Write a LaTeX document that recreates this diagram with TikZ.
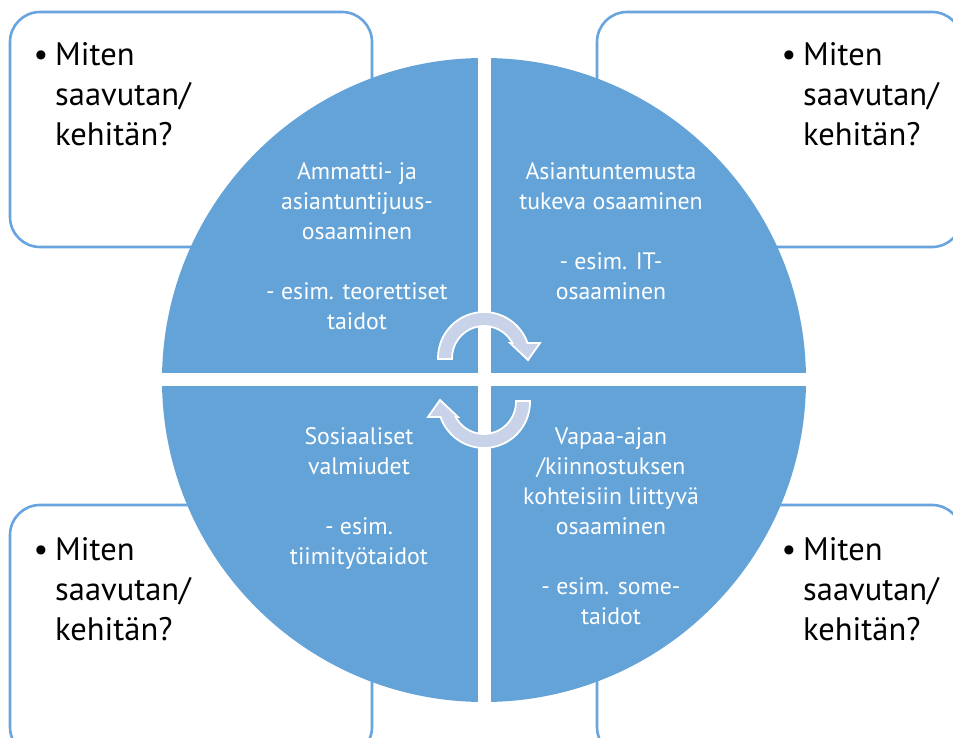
\documentclass[tikz,border=0pt]{standalone}
\usepackage{fontspec}
\setmainfont{PT Sans}
\usepackage{tikz}
\usetikzlibrary{positioning,calc}
\definecolor{wheel}{RGB}{100,163,215}
\definecolor{frame}{RGB}{104,164,222}
\definecolor{cycle}{RGB}{200,210,232}

\tikzset{
  askbox/.style={draw=frame,line width=2.6pt,rounded corners=30pt,fill=white},
  asktext/.style={inner sep=0pt,anchor=north west,align=left,font=\fontsize{32.5}{40}\selectfont},
  areatext/.style={inner sep=0pt,anchor=north,align=center,text=white,font=\fontsize{23.8}{30}\selectfont},
  cyclearrow/.style={fill=cycle,draw=white,line width=1.8pt,line join=miter}
}

\begin{document}
\begin{tikzpicture}[x=1pt,y=1pt]
\clip (0,0) rectangle (953,737);
\fill[white] (0,0) rectangle (953,737);
% corner boxes
\draw[askbox] (10,490) rectangle (372,725);
\draw[askbox] (597,490) rectangle (962,725);
\draw[askbox] (10,-20) rectangle (372,232);
\draw[askbox] (597,-20) rectangle (962,232);
\node[asktext] (ask1) at (55,695) {\llap{\textbullet\hspace{7pt}}Miten\\saavutan/\\kehitän?};
\node[asktext] (ask2) at (803,695) {\llap{\textbullet\hspace{7pt}}Miten\\saavutan/\\kehitän?};
\node[asktext] (ask3) at (55,200) {\llap{\textbullet\hspace{7pt}}Miten\\saavutan/\\kehitän?};
\node[asktext] (ask4) at (803,200) {\llap{\textbullet\hspace{7pt}}Miten\\saavutan/\\kehitän?};
% wheel
\coordinate (mid) at (484,357);
\fill[wheel] (mid) circle (322);
\draw[white,line width=13pt] ($(mid)+(0,-330)$) -- ($(mid)+(0,330)$);
\draw[white,line width=13pt] ($(mid)+(-330,0)$) -- ($(mid)+(330,0)$);
\node[areatext] (area1) at (357,575) {Ammatti- ja\\asiantuntijuus-\\osaaminen\\[30pt]- esim. teorettiset\\taidot};
\node[areatext] (area2) at (611,575) {Asiantuntemusta\\tukeva osaaminen\\[30pt]- esim. IT-\\osaaminen};
\node[areatext] (area3) at (359,310) {Sosiaaliset\\valmiudet\\[30pt]- esim.\\tiimityötaidot};
\node[areatext] (area4) at (611,310) {Vapaa-ajan\\/kiinnostuksen\\kohteisiin liittyvä\\osaaminen\\[30pt]- esim. some-\\taidot};
% cycle arrows
\begin{scope}[shift={(484,379)}]
\draw[cyclearrow] (-46,-1) -- (-46,0) arc[start angle=180,end angle=19,radius=46]
  -- (56,15) -- (44,-2) -- (26,15) -- (28.3,15) arc[start angle=28,end angle=180,radius=32] -- (-32,-1) -- cycle;
\end{scope}
\begin{scope}[shift={(484,335)},rotate=180]
\draw[cyclearrow] (-46,-1) -- (-46,0) arc[start angle=180,end angle=19,radius=46]
  -- (56,15) -- (44,-2) -- (26,15) -- (28.3,15) arc[start angle=28,end angle=180,radius=32] -- (-32,-1) -- cycle;
\end{scope}
\end{tikzpicture}
\end{document}
